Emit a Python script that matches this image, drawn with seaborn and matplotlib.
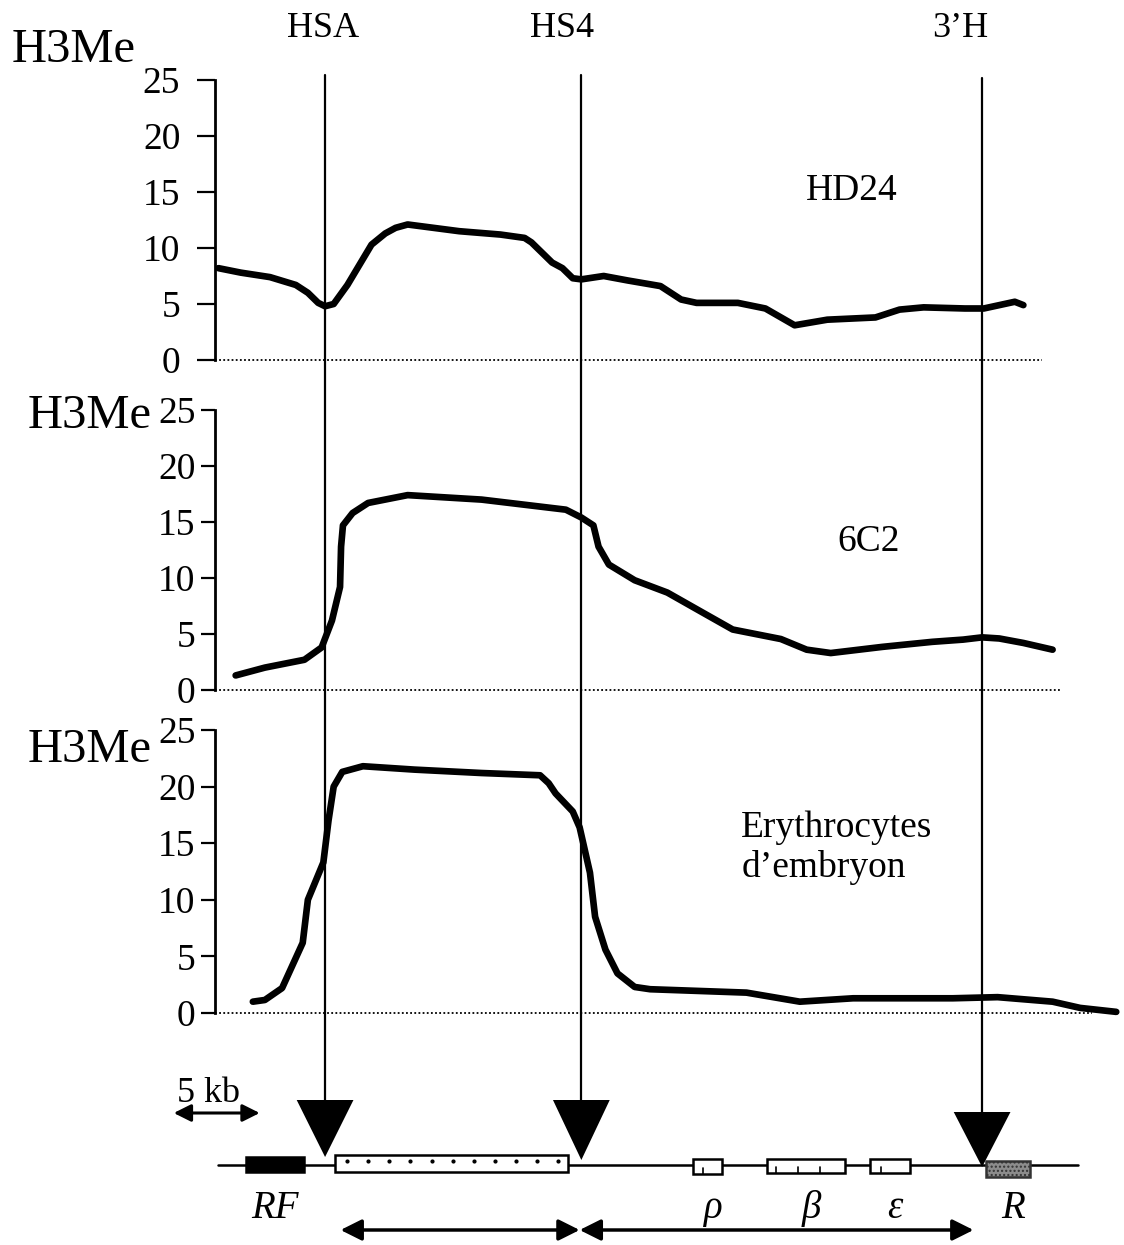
import matplotlib
matplotlib.use("Agg")
import matplotlib.pyplot as plt
import numpy as np
import pandas as pd
import seaborn as sns
from matplotlib.patches import Rectangle

# positions along the locus in kb (0 = left end of the profiles)
hd24_pos = [0.2, 1.5, 3.2, 4.7, 5.4, 6.0, 6.4, 6.9, 7.7, 8.4, 9.1, 9.9, 10.5,
            11.2, 12.2, 14.2, 16.6, 18.0, 18.4, 19.6, 20.2, 20.8, 21.3, 22.6,
            24.0, 25.9, 27.1, 28.0, 30.4, 32.0, 33.7, 35.6, 38.4, 39.8, 41.2,
            43.6, 44.7, 46.5, 47.0]
hd24_val = [8.2, 7.8, 7.4, 6.7, 6.0, 5.1, 4.8, 5.0, 6.7, 8.5, 10.3, 11.3, 11.8,
            12.1, 11.9, 11.5, 11.2, 10.9, 10.5, 8.7, 8.2, 7.3, 7.2, 7.5,
            7.1, 6.6, 5.4, 5.1, 5.1, 4.6, 3.1, 3.6, 3.8, 4.5, 4.7,
            4.6, 4.6, 5.2, 4.9]

c6c2_pos = [1.2, 2.9, 5.2, 6.2, 6.8, 7.27, 7.33, 7.44, 8.0, 8.9, 11.2, 15.5,
            20.4, 21.3, 22.0, 22.3, 22.9, 24.4, 26.3, 28.6, 30.1, 32.9, 34.4,
            35.8, 38.8, 41.7, 43.5, 44.6, 45.6, 47.0, 48.7]
c6c2_val = [1.3, 2.0, 2.7, 3.8, 6.2, 9.2, 12.8, 14.7, 15.8, 16.7, 17.4, 17.0,
            16.1, 15.4, 14.7, 12.8, 11.2, 9.8, 8.7, 6.7, 5.4, 4.55, 3.6,
            3.3, 3.85, 4.3, 4.5, 4.7, 4.6, 4.2, 3.6]

ery_pos = [2.2, 2.9, 3.9, 5.1, 5.4, 5.7, 6.3, 6.6, 6.9, 7.4, 8.6, 11.6, 15.5,
           18.9, 19.4, 19.8, 20.8, 21.2, 21.5, 21.8, 22.1, 22.7, 23.4, 24.4,
           25.3, 30.9, 34.0, 37.1, 42.9, 45.5, 48.7, 50.3, 52.4]
ery_val = [1.0, 1.15, 2.2, 6.2, 10.0, 11.1, 13.3, 17.0, 20.0, 21.3, 21.8, 21.5,
           21.2, 21.0, 20.3, 19.4, 17.8, 16.4, 14.4, 12.4, 8.5, 5.6, 3.5, 2.3,
           2.1, 1.8, 1.0, 1.3, 1.3, 1.4, 1.0, 0.45, 0.1]

panel_names = ["HD24", "6C2", "Erythrocytes\nd’embryon"]
baseline_end = [48.1, 49.1, 51.0]

sites = ["HSA", "HS4", "3’H"]
site_pos = [6.4, 21.3, 44.6]

genes = ["RF", "", "ρ", "β", "ε", "R"]
gene_start = [1.8, 7.0, 27.8, 32.1, 38.1, 44.8]
gene_end = [5.2, 20.5, 29.5, 36.6, 40.4, 47.4]
map_start, map_end = 0.17, 50.2
domains = [(7.3, 21.2), (21.2, 44.1)]
scale_kb = 5

sns.set_theme(style="white")
plt.rcParams["font.family"] = ["Liberation Serif", "DejaVu Serif"]
plt.rcParams["text.color"] = "black"
plt.rcParams["ytick.color"] = "black"
plt.rcParams["ytick.labelcolor"] = "black"

W, H = 1124, 1245
fig = plt.figure(figsize=(W / 100, H / 100), dpi=100)
xlim = (-12.5, 52.85)

# overlay in figure pixel rows for the map and the annotations
over = fig.add_axes([0, 0, 1, 1])
over.set_xlim(xlim)
over.set_ylim(H, 0)
over.axis("off")

profiles = [(hd24_pos, hd24_val), (c6c2_pos, c6c2_val), (ery_pos, ery_val)]
rows = [(80, 360), (410, 690), (730, 1013)]   # pixel rows of 25 and 0
tick_len = [13, 10, 10]
tick_pad = [12, 4, 4]
name_xy = [(37.0, 200), (38.0, 551), (30.6, 877)]
ylab_xy = [(-11.8, 62), (-10.9, 428), (-10.9, 762)]

for i, (pos, val) in enumerate(profiles):
    top, bot = rows[i]
    ax = fig.add_axes([0, 1 - bot / H, 1, (bot - top) / H])
    ax.patch.set_alpha(0)
    df = pd.DataFrame({"pos": pos, "val": val})
    sns.lineplot(data=df, x="pos", y="val", ax=ax, color="black",
                 linewidth=4.8, estimator=None, sort=False)
    for ln in ax.lines:
        ln.set_clip_on(False)
        ln.set_solid_capstyle("round")
        ln.set_solid_joinstyle("round")
    ax.plot([0, baseline_end[i]], [0, 0], color="black", lw=1.3,
            ls=(0, (1, 1.3)), clip_on=False)
    ax.set_xlim(xlim)
    ax.set_ylim(0, 25)
    ax.set_xticks([])
    ax.set_yticks(range(0, 26, 5))
    ax.set_xlabel("")
    ax.set_ylabel("")
    for s in ["top", "right", "bottom"]:
        ax.spines[s].set_visible(False)
    ax.spines["left"].set_position(("data", 0))
    ax.spines["left"].set_linewidth(2)
    ax.spines["left"].set_color("black")
    ax.tick_params(axis="y", left=True, direction="out", length=tick_len[i],
                   width=1.6, pad=tick_pad[i], labelsize=27, colors="black")
    over.text(ylab_xy[i][0], ylab_xy[i][1], "H3Me", fontsize=35,
              ha="left", va="baseline")
    over.text(name_xy[i][0], name_xy[i][1], panel_names[i], fontsize=27,
              ha="center" if i < 2 else "left", va="baseline",
              linespacing=1.2)

# HS sites: labels, long lines and arrowheads
line_top = [75, 75, 78]
tri_top = [1100, 1100, 1112]
tri_tip = [1157, 1160, 1167]
label_x = [6.3, 20.2, 43.3]
for k, p in enumerate(site_pos):
    over.text(label_x[k], 37, sites[k], fontsize=26, ha="center", va="baseline")
    over.plot([p, p], [line_top[k], tri_top[k]], color="black", lw=1.6)
    over.fill([p - 1.65, p + 1.65, p], [tri_top[k], tri_top[k], tri_tip[k]],
              color="black", lw=0)

# gene map
y_map = 1165
over.plot([map_start, map_end], [y_map, y_map], color="black", lw=1.8, zorder=1)
box_top = [1157, 1155, 1159, 1159, 1159, 1161]
box_h = [15, 17, 15, 14, 14, 16]
for g in range(len(genes)):
    x0, w = gene_start[g], gene_end[g] - gene_start[g]
    if g == 0:
        fc, ec = "black", "black"
    elif g == 5:
        fc, ec = "#8c8c8c", "#333333"
    else:
        fc, ec = "white", "black"
    over.add_patch(Rectangle((x0, box_top[g]), w, box_h[g], facecolor=fc,
                             edgecolor=ec, lw=1.8, zorder=2,
                             hatch="...." if g == 5 else None))
    if g == 1:
        dots = x0 + w * np.linspace(0.05, 0.96, 11)
        over.scatter(dots, [box_top[g] + 6] * len(dots), s=4, color="black",
                     zorder=3)
    if genes[g]:
        over.text((gene_start[g] + gene_end[g]) / 2 + (0.3 if g > 1 else 0),
                  1218, genes[g], fontsize=28, fontstyle="italic",
                  ha="center", va="baseline")

tick_frac = {2: [0.35], 3: [0.12, 0.4, 0.68], 4: [0.27]}
for g, fr in tick_frac.items():
    for f in fr:
        xt = gene_start[g] + f * (gene_end[g] - gene_start[g])
        bottom = box_top[g] + box_h[g]
        over.plot([xt, xt], [bottom, bottom - 6], color="black", lw=1.2,
                  zorder=3)

# domain arrows under the map
for a, b in domains:
    over.annotate("", xy=(b, 1230), xytext=(a, 1230),
                  arrowprops=dict(arrowstyle="<|-|>", mutation_scale=32,
                                  lw=2.5, color="black", shrinkA=0, shrinkB=0))

# scale bar
over.annotate("", xy=(-2.4 + scale_kb, 1113), xytext=(-2.4, 1113),
              arrowprops=dict(arrowstyle="<|-|>", mutation_scale=26,
                              lw=2.2, color="black", shrinkA=0, shrinkB=0))
over.text(-0.4, 1102, f"{scale_kb} kb", fontsize=26, ha="center",
          va="baseline")

fig.savefig("out.png", dpi=100)
